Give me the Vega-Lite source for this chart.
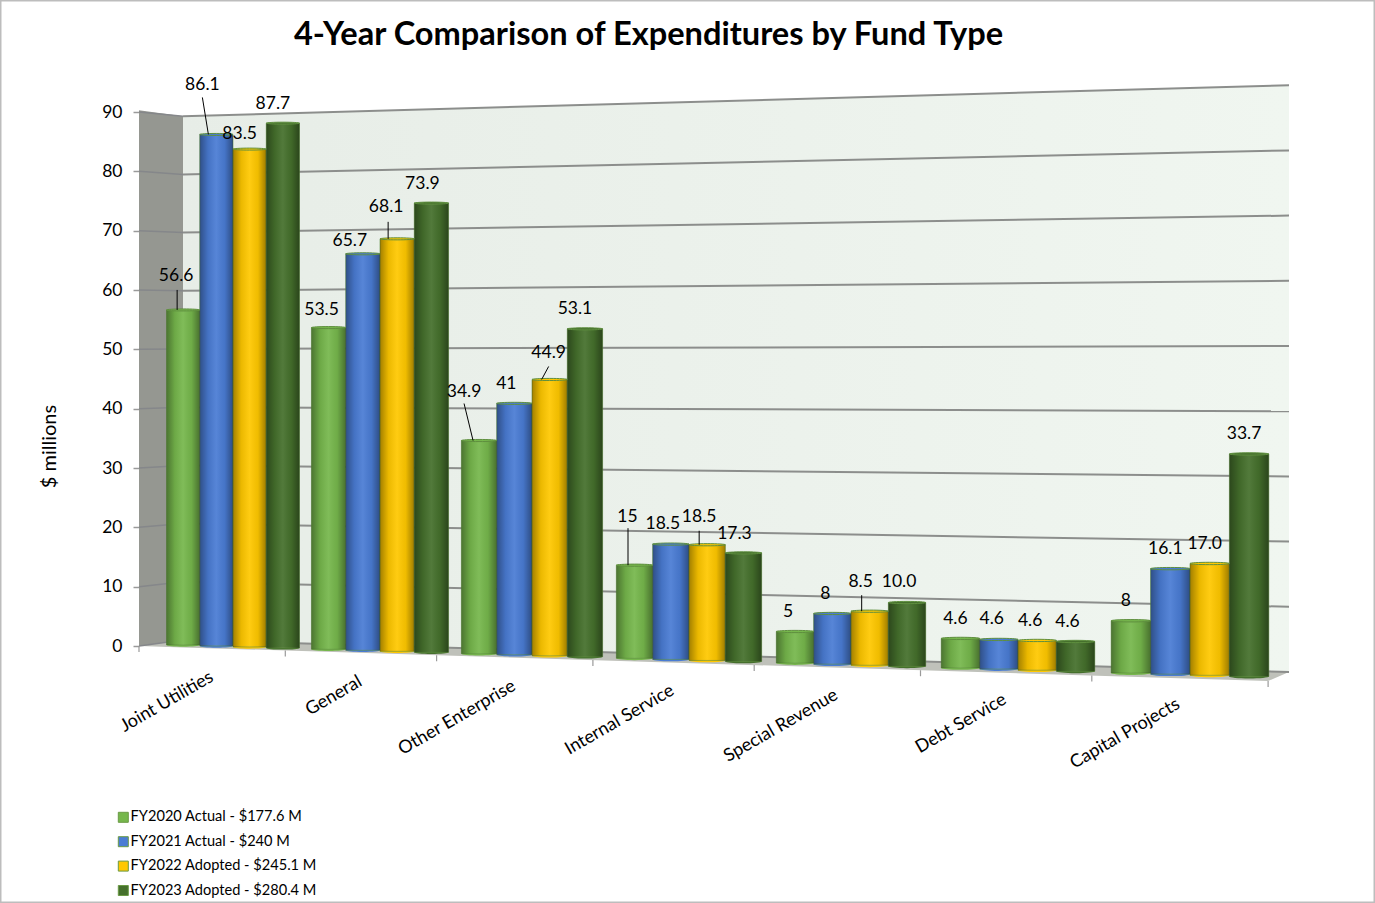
{
  "$schema": "https://vega.github.io/schema/vega-lite/v6.json",
  "width": 1375,
  "height": 903,
  "padding": 0,
  "autosize": {"type": "none"},
  "background": "white",
  "view": {"stroke": "#bdbdbd", "strokeWidth": 3, "fill": "white"},
  "title": {
    "text": "4-Year Comparison of Expenditures by Fund Type",
    "anchor": "middle",
    "frame": "group",
    "dx": -39,
    "dy": 56,
    "font": "Lato",
    "fontWeight": "bold",
    "fontSize": 32.6,
    "color": "#000000"
  },
  "datasets": {
    "grid": [
      {"millions": 0}, {"millions": 10}, {"millions": 20}, {"millions": 30}, {"millions": 40},
      {"millions": 50}, {"millions": 60}, {"millions": 70}, {"millions": 80}, {"millions": 90}
    ],
    "edges": [{"edge": 0}, {"edge": 1}],
    "floorStops": [{"stop": 0}, {"stop": 1}, {"stop": 2}, {"stop": 3}],
    "boundaries": [
      {"boundary": 0}, {"boundary": 1}, {"boundary": 2}, {"boundary": 3},
      {"boundary": 4}, {"boundary": 5}, {"boundary": 6}, {"boundary": 7}
    ],
    "funds": [
      {"fund": "Joint Utilities", "rank": 0},
      {"fund": "General", "rank": 1},
      {"fund": "Other Enterprise", "rank": 2},
      {"fund": "Internal Service", "rank": 3},
      {"fund": "Special Revenue", "rank": 4},
      {"fund": "Debt Service", "rank": 5},
      {"fund": "Capital Projects", "rank": 6}
    ],
    "spending": [
      {"fund": "Joint Utilities", "budget": "FY2020 Actual - $177.6 M", "value": 56.6, "label": "56.6"},
      {"fund": "Joint Utilities", "budget": "FY2021 Actual - $240 M", "value": 86.1, "label": "86.1"},
      {"fund": "Joint Utilities", "budget": "FY2022 Adopted - $245.1 M", "value": 83.5, "label": "83.5"},
      {"fund": "Joint Utilities", "budget": "FY2023 Adopted - $280.4 M", "value": 87.7, "label": "87.7"},
      {"fund": "General", "budget": "FY2020 Actual - $177.6 M", "value": 53.5, "label": "53.5"},
      {"fund": "General", "budget": "FY2021 Actual - $240 M", "value": 65.7, "label": "65.7"},
      {"fund": "General", "budget": "FY2022 Adopted - $245.1 M", "value": 68.1, "label": "68.1"},
      {"fund": "General", "budget": "FY2023 Adopted - $280.4 M", "value": 73.9, "label": "73.9"},
      {"fund": "Other Enterprise", "budget": "FY2020 Actual - $177.6 M", "value": 34.9, "label": "34.9"},
      {"fund": "Other Enterprise", "budget": "FY2021 Actual - $240 M", "value": 41, "label": "41"},
      {"fund": "Other Enterprise", "budget": "FY2022 Adopted - $245.1 M", "value": 44.9, "label": "44.9"},
      {"fund": "Other Enterprise", "budget": "FY2023 Adopted - $280.4 M", "value": 53.1, "label": "53.1"},
      {"fund": "Internal Service", "budget": "FY2020 Actual - $177.6 M", "value": 15, "label": "15"},
      {"fund": "Internal Service", "budget": "FY2021 Actual - $240 M", "value": 18.5, "label": "18.5"},
      {"fund": "Internal Service", "budget": "FY2022 Adopted - $245.1 M", "value": 18.5, "label": "18.5"},
      {"fund": "Internal Service", "budget": "FY2023 Adopted - $280.4 M", "value": 17.3, "label": "17.3"},
      {"fund": "Special Revenue", "budget": "FY2020 Actual - $177.6 M", "value": 5, "label": "5"},
      {"fund": "Special Revenue", "budget": "FY2021 Actual - $240 M", "value": 8, "label": "8"},
      {"fund": "Special Revenue", "budget": "FY2022 Adopted - $245.1 M", "value": 8.5, "label": "8.5"},
      {"fund": "Special Revenue", "budget": "FY2023 Adopted - $280.4 M", "value": 10, "label": "10.0"},
      {"fund": "Debt Service", "budget": "FY2020 Actual - $177.6 M", "value": 4.6, "label": "4.6"},
      {"fund": "Debt Service", "budget": "FY2021 Actual - $240 M", "value": 4.6, "label": "4.6"},
      {"fund": "Debt Service", "budget": "FY2022 Adopted - $245.1 M", "value": 4.6, "label": "4.6"},
      {"fund": "Debt Service", "budget": "FY2023 Adopted - $280.4 M", "value": 4.6, "label": "4.6"},
      {"fund": "Capital Projects", "budget": "FY2020 Actual - $177.6 M", "value": 8, "label": "8"},
      {"fund": "Capital Projects", "budget": "FY2021 Actual - $240 M", "value": 16.1, "label": "16.1"},
      {"fund": "Capital Projects", "budget": "FY2022 Adopted - $245.1 M", "value": 17, "label": "17.0"},
      {"fund": "Capital Projects", "budget": "FY2023 Adopted - $280.4 M", "value": 33.7, "label": "33.7"}
    ]
  },
  "layer": [
    {
      "data": {"name": "edges"},
      "transform": [
        {"calculate": "datum.edge ? 183 : 139", "as": "px"},
        {"calculate": "datum.edge ? (646-116.2)/5.933 : 90.3", "as": "wallTop"},
        {"calculate": "datum.edge ? (646-640)/5.933 : 0", "as": "wallBottom"}
      ],
      "mark": {"type": "area", "orient": "vertical", "color": "#959791"},
      "encoding": {
        "x": {"field": "px", "type": "quantitative", "axis": null, "scale": {"domain": [0, 1375], "nice": false, "zero": false}},
        "y": {
          "field": "wallTop",
          "type": "quantitative",
          "scale": {"domain": [-43.317, 108.883], "nice": false, "zero": false},
          "axis": {
            "values": [0, 10, 20, 30, 40, 50, 60, 70, 80, 90],
            "offset": -139,
            "domain": false,
            "grid": false,
            "tickSize": 6,
            "tickColor": "#9a9a9a",
            "tickWidth": 1.5,
            "labelFont": "Lato",
            "labelFontSize": 17.5,
            "labelColor": "#000000",
            "labelPadding": 11,
            "title": "$ millions",
            "titleFont": "Lato",
            "titleFontSize": 20,
            "titleFontWeight": "normal",
            "titleColor": "#000000",
            "titleAngle": -90,
            "titleX": -90,
            "titleY": 446,
            "titleAlign": "center",
            "titleBaseline": "middle"
          }
        },
        "y2": {"field": "wallBottom"}
      }
    },
    {
      "data": {"name": "edges"},
      "transform": [
        {"calculate": "datum.edge ? 1289 : 183", "as": "px"},
        {"calculate": "datum.edge ? (646-85.2)/5.933 : (646-116.2)/5.933", "as": "wallTop"},
        {"calculate": "datum.edge ? (646-672)/5.933 : (646-640)/5.933", "as": "wallBottom"}
      ],
      "mark": {
        "type": "area",
        "orient": "vertical",
        "color": {
          "gradient": "linear",
          "x1": 0, "x2": 1, "y1": 0, "y2": 0,
          "stops": [
            {"offset": 0, "color": "#e7ede7"},
            {"offset": 1, "color": "#f0f6f0"}
          ]
        }
      },
      "encoding": {
        "x": {"field": "px", "type": "quantitative", "axis": null},
        "y": {"field": "wallTop", "type": "quantitative"},
        "y2": {"field": "wallBottom"}
      }
    },
    {
      "data": {"name": "floorStops"},
      "transform": [
        {"calculate": "[139,183,1268,1289][datum.stop]", "as": "px"},
        {"calculate": "(646-[646,640,671.4,672][datum.stop])/5.933", "as": "rear"},
        {"calculate": "(646-[646,647.4,681,672][datum.stop])/5.933", "as": "front"}
      ],
      "mark": {"type": "area", "orient": "vertical", "color": "#bfc1ba"},
      "encoding": {
        "x": {"field": "px", "type": "quantitative", "axis": null},
        "y": {"field": "rear", "type": "quantitative"},
        "y2": {"field": "front"}
      }
    },
    {
      "data": {"name": "grid"},
      "transform": [
        {"calculate": "(646-(640-5.82*datum.millions))/5.933", "as": "rearLeft"}
      ],
      "mark": {"type": "rule", "color": "#85878a", "strokeWidth": 1.5},
      "encoding": {
        "x": {"datum": 139, "type": "quantitative", "axis": null},
        "x2": {"datum": 183},
        "y": {"field": "millions", "type": "quantitative"},
        "y2": {"field": "rearLeft"}
      }
    },
    {
      "data": {"name": "grid"},
      "transform": [
        {"calculate": "(646-(640-5.82*datum.millions))/5.933", "as": "rearLeft"},
        {"calculate": "(646-(672-6.52*datum.millions))/5.933", "as": "rearRight"}
      ],
      "mark": {"type": "rule", "color": "#8c8e8c", "strokeWidth": 2},
      "encoding": {
        "x": {"datum": 183, "type": "quantitative", "axis": null},
        "x2": {"datum": 1289},
        "y": {"field": "rearLeft", "type": "quantitative"},
        "y2": {"field": "rearRight"}
      }
    },
    {
      "data": {"name": "boundaries"},
      "transform": [
        {"calculate": "139+143.8*datum.boundary+2.5*datum.boundary*datum.boundary", "as": "px"},
        {"calculate": "646+0.031*(datum.px-139)", "as": "edgePx"},
        {"calculate": "(646-datum.edgePx)/5.933", "as": "tickTop"},
        {"calculate": "(646-datum.edgePx-6)/5.933", "as": "tickBottom"}
      ],
      "mark": {"type": "rule", "color": "#9a9a9a", "strokeWidth": 1.2},
      "encoding": {
        "x": {"field": "px", "type": "quantitative", "axis": null},
        "y": {"field": "tickTop", "type": "quantitative"},
        "y2": {"field": "tickBottom"}
      }
    },
    {
      "data": {"name": "funds"},
      "transform": [
        {"calculate": "233+147*datum.rank+2.5*datum.rank*(datum.rank-1)", "as": "mid"},
        {"calculate": "datum.mid-21+1.6*datum.rank", "as": "px"},
        {"calculate": "(646-(676+4.5*datum.rank))/5.933", "as": "py"}
      ],
      "mark": {"type": "text", "angle": 330, "align": "right", "baseline": "middle", "font": "Lato", "fontSize": 18, "color": "#000000"},
      "encoding": {
        "x": {"field": "px", "type": "quantitative", "axis": null},
        "y": {"field": "py", "type": "quantitative"},
        "text": {"field": "fund"}
      }
    },
    {
      "data": {"name": "spending"},
      "transform": [
        {"calculate": "indexof(['Joint Utilities','General','Other Enterprise','Internal Service','Special Revenue','Debt Service','Capital Projects'], datum.fund)", "as": "f"},
        {"calculate": "indexof(['FY2020 Actual - $177.6 M','FY2021 Actual - $240 M','FY2022 Adopted - $245.1 M','FY2023 Adopted - $280.4 M'], datum.budget)", "as": "s"},
        {"calculate": "233+147*datum.f+2.5*datum.f*(datum.f-1)", "as": "mid"},
        {"calculate": "(133+4.1*datum.f)/4", "as": "barW"},
        {"calculate": "datum.mid+(datum.s-1.5)*datum.barW", "as": "xc"},
        {"calculate": "datum.xc-datum.barW/2", "as": "x0"},
        {"calculate": "datum.xc+datum.barW/2", "as": "x1"},
        {"calculate": "datum.barW*datum.barW", "as": "capSize"},
        {"calculate": "645+0.0295*(datum.xc-183)", "as": "basePx"},
        {"calculate": "5.92+0.00064*(datum.xc-183)", "as": "pxPerMillion"},
        {"calculate": "datum.basePx-datum.pxPerMillion*datum.value", "as": "topPx"},
        {"calculate": "(646-datum.basePx)/5.933", "as": "yBase"},
        {"calculate": "(646-datum.topPx)/5.933", "as": "yTop"}
      ],
      "layer": [
        {
          "mark": {"type": "point", "shape": "M-1,0A1,0.1,0,1,0,1,0A1,0.1,0,1,0,-1,0Z", "filled": true, "opacity": 1, "strokeWidth": 0},
          "encoding": {
            "x": {"field": "xc", "type": "quantitative", "axis": null},
            "y": {"field": "yBase", "type": "quantitative"},
            "size": {"field": "capSize", "type": "quantitative", "scale": null, "legend": null},
            "color": {
              "field": "budget",
              "type": "nominal",
              "scale": {
                "domain": ["FY2020 Actual - $177.6 M", "FY2021 Actual - $240 M", "FY2022 Adopted - $245.1 M", "FY2023 Adopted - $280.4 M"],
                "range": ["#76b74c", "#4a7cd4", "#ffc800", "#45702c"]
              },
              "legend": {
                "orient": "none",
                "legendX": 116,
                "legendY": 810,
                "title": null,
                "symbolType": "square",
                "symbolSize": 100,
                "symbolStrokeColor": "#6b9a45",
                "symbolStrokeWidth": 1,
                "labelFont": "Lato",
                "labelFontSize": 14.6,
                "labelColor": "#000000",
                "labelOffset": 0,
                "rowPadding": 8.4,
                "labelLimit": 300
              }
            }
          }
        },
        {
          "mark": {"type": "bar", "stroke": "#5f8f3f", "strokeWidth": 0.6},
          "encoding": {
            "x": {"field": "x0", "type": "quantitative", "axis": null},
            "x2": {"field": "x1"},
            "y": {"field": "yTop", "type": "quantitative"},
            "y2": {"field": "yBase"},
            "color": {"field": "budget", "type": "nominal"}
          }
        },
        {
          "mark": {
            "type": "bar",
            "color": {
              "gradient": "linear",
              "x1": 0, "x2": 1, "y1": 0, "y2": 0,
              "stops": [
                {"offset": 0, "color": "rgba(0,0,0,0.36)"},
                {"offset": 0.25, "color": "rgba(0,0,0,0.08)"},
                {"offset": 0.5, "color": "rgba(255,255,255,0.07)"},
                {"offset": 0.75, "color": "rgba(0,0,0,0.06)"},
                {"offset": 1, "color": "rgba(0,0,0,0.38)"}
              ]
            }
          },
          "encoding": {
            "x": {"field": "x0", "type": "quantitative", "axis": null},
            "x2": {"field": "x1"},
            "y": {"field": "yTop", "type": "quantitative"},
            "y2": {"field": "yBase"}
          }
        },
        {
          "mark": {"type": "point", "shape": "M-1,0A1,0.06,0,1,0,1,0A1,0.06,0,1,0,-1,0Z", "filled": true, "opacity": 1, "stroke": "#5f8f3f", "strokeWidth": 1},
          "encoding": {
            "x": {"field": "xc", "type": "quantitative", "axis": null},
            "y": {"field": "yTop", "type": "quantitative"},
            "size": {"field": "capSize", "type": "quantitative", "scale": null, "legend": null},
            "color": {"field": "budget", "type": "nominal"}
          }
        },
        {
          "transform": [
            {"calculate": "[[[-6,-20,-6],[-14,-37,-8],null,null],[null,null,[-9,-17,-9],null],[[-15,-37,-6],null,[-1,-13,-8],null],[[-6.5,-37,-6.5],null,[-8,-14,-8],null],[null,null,[-8,-16,-8],null],[null,null,null,null],[null,null,null,null]][datum.f][datum.s]", "as": "lead"},
            {"filter": "datum.lead != null"},
            {"calculate": "datum.xc+datum.lead[0]", "as": "leadX"},
            {"calculate": "(646-(datum.topPx+datum.lead[1]))/5.933", "as": "leadY"},
            {"calculate": "datum.xc+datum.lead[2]", "as": "leadX2"}
          ],
          "mark": {"type": "rule", "color": "#000000", "strokeWidth": 1},
          "encoding": {
            "x": {"field": "leadX", "type": "quantitative", "axis": null},
            "x2": {"field": "leadX2"},
            "y": {"field": "leadY", "type": "quantitative"},
            "y2": {"field": "yTop"}
          }
        },
        {
          "transform": [
            {"calculate": "[[-7,-14,-10,-10],[-7,-13,-11,-9],[-15,-8,-1,-10],[-7,-8,-8,-9],[-7,-7,-9,-8],[-5,-7,-7,-8],[-5,-5,-5,-5]][datum.f][datum.s]", "as": "nudgeX"},
            {"calculate": "[[-34,-49,-15,-19],[-18,-13,-32,-19],[-49,-19,-26,-20],[-48,-20,-28,-19],[-19,-19,-29,-21],[-19,-20,-19,-19],[-20,-20,-19,-20]][datum.f][datum.s]", "as": "nudgeY"},
            {"calculate": "datum.xc+datum.nudgeX", "as": "labelX"},
            {"calculate": "(646-(datum.topPx+datum.nudgeY))/5.933", "as": "labelY"}
          ],
          "mark": {"type": "text", "align": "center", "baseline": "middle", "font": "Lato", "fontSize": 17.5, "color": "#000000"},
          "encoding": {
            "x": {"field": "labelX", "type": "quantitative", "axis": null},
            "y": {"field": "labelY", "type": "quantitative"},
            "text": {"field": "label"}
          }
        }
      ]
    }
  ]
}
